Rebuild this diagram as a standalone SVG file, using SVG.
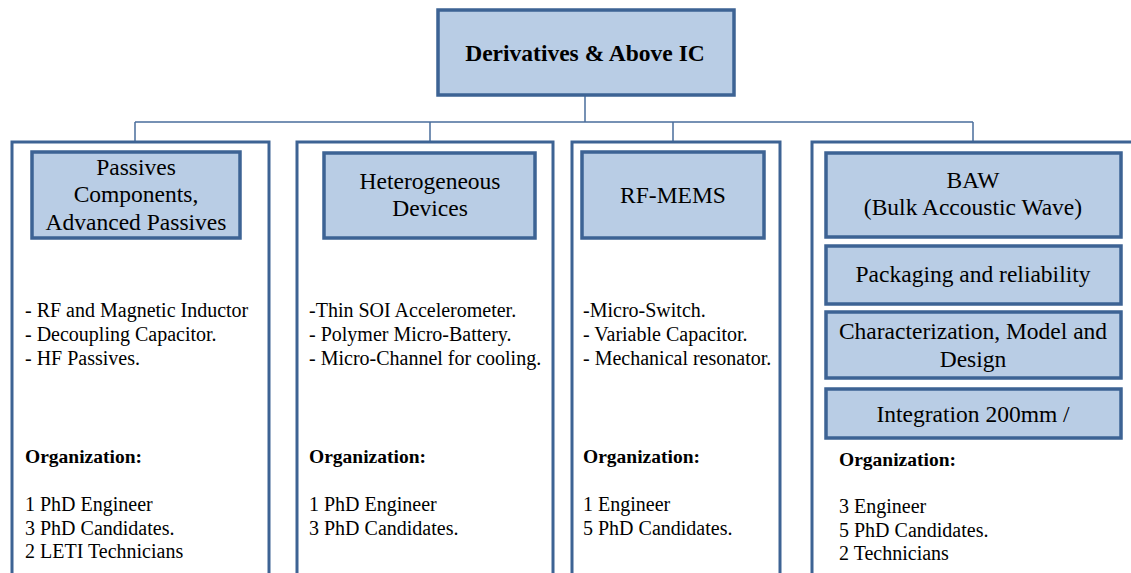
<svg xmlns="http://www.w3.org/2000/svg" width="1131" height="573" viewBox="0 0 1131 573">
<style>
.box{fill:#b9cde5;stroke:#3d6394;stroke-width:3.5}
.col{fill:#ffffff;stroke:#3d6394;stroke-width:3}
.conn{fill:none;stroke:#4a6d9c;stroke-width:1.5}
.t{font-family:"Liberation Serif","Times New Roman",serif;fill:#000}
.h{font-size:23.5px;text-anchor:middle}
.b{font-size:20px}
.bb{font-size:19.5px;font-weight:bold}
</style>
<rect width="1131" height="573" fill="#ffffff"/>
<g id="connectors">
<path class="conn" d="M585,96 V122 M135,122 H973 M135,122 V152 M430,122 V153 M673,122 V152 M973,122 V153"/>
</g>
<g id="top">
<rect class="box" x="438" y="10" width="296" height="85"/>
<text class="t" x="585" y="61" font-size="23.5" font-weight="bold" text-anchor="middle">Derivatives &amp; Above IC</text>
</g>
<g id="col1">
<rect class="col" x="12" y="142" width="257" height="450"/>
<rect class="box" x="32" y="152" width="208" height="86"/>
<text class="t h" x="136" y="175">Passives</text>
<text class="t h" x="136" y="202">Components,</text>
<text class="t h" x="136" y="230">Advanced Passives</text>
<text class="t b" x="25" y="317">- RF and Magnetic Inductor</text>
<text class="t b" x="25" y="341">- Decoupling Capacitor.</text>
<text class="t b" x="25" y="365">- HF Passives.</text>
<text class="t bb" x="25" y="463">Organization:</text>
<text class="t b" x="25" y="511">1 PhD Engineer</text>
<text class="t b" x="25" y="535">3 PhD Candidates.</text>
<text class="t b" x="25" y="558">2 LETI Technicians</text>
</g>
<g id="col2">
<rect class="col" x="297" y="142" width="256" height="450"/>
<rect class="box" x="324" y="153" width="211" height="85"/>
<text class="t h" x="430" y="189">Heterogeneous</text>
<text class="t h" x="430" y="216">Devices</text>
<text class="t b" x="309" y="317">-Thin SOI Accelerometer.</text>
<text class="t b" x="309" y="341">- Polymer Micro-Battery.</text>
<text class="t b" x="309" y="365">- Micro-Channel for cooling.</text>
<text class="t bb" x="309" y="463">Organization:</text>
<text class="t b" x="309" y="511">1 PhD Engineer</text>
<text class="t b" x="309" y="535">3 PhD Candidates.</text>
</g>
<g id="col3">
<rect class="col" x="572" y="142" width="208" height="450"/>
<rect class="box" x="582" y="152" width="182" height="86"/>
<text class="t h" x="673" y="203">RF-MEMS</text>
<text class="t b" x="583" y="317">-Micro-Switch.</text>
<text class="t b" x="583" y="341">- Variable Capacitor.</text>
<text class="t b" x="583" y="365">- Mechanical resonator.</text>
<text class="t bb" x="583" y="463">Organization:</text>
<text class="t b" x="583" y="511">1 Engineer</text>
<text class="t b" x="583" y="535">5 PhD Candidates.</text>
</g>
<g id="col4">
<rect class="col" x="812" y="142" width="340" height="450"/>
<rect class="box" x="826" y="153" width="295" height="84"/>
<text class="t h" x="973" y="188">BAW</text>
<text class="t h" x="973" y="215">(Bulk Accoustic Wave)</text>
<rect class="box" x="826" y="246" width="295" height="58"/>
<text class="t h" x="973" y="282">Packaging and reliability</text>
<rect class="box" x="826" y="312" width="295" height="66"/>
<text class="t h" x="973" y="339">Characterization, Model and</text>
<text class="t h" x="973" y="367">Design</text>
<rect class="box" x="826" y="389" width="295" height="49"/>
<text class="t h" x="973" y="422">Integration 200mm /</text>
<text class="t bb" x="839" y="466">Organization:</text>
<text class="t b" x="839" y="513">3 Engineer</text>
<text class="t b" x="839" y="537">5 PhD Candidates.</text>
<text class="t b" x="839" y="560">2 Technicians</text>
</g>
</svg>
